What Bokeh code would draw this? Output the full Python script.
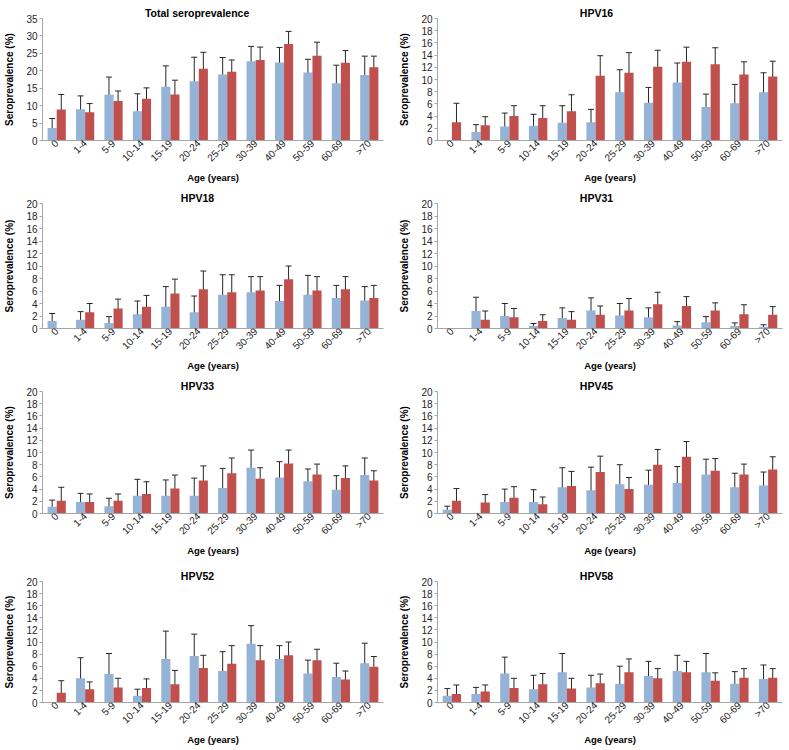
import math
from bokeh.plotting import figure
from bokeh.models import (ColumnDataSource, FactorRange, Range1d, Whisker, TeeHead,
                          FixedTicker)
from bokeh.transform import dodge
from bokeh.layouts import column, row
from bokeh.embed import file_html
from bokeh.resources import INLINE

# ---------------- data ----------------
ages = ["0", "1-4", "5-9", "10-14", "15-19", "20-24", "25-29", "30-39",
        "40-49", "50-59", "60-69", ">70"]

y_ticks_total = [0, 5, 10, 15, 20, 25, 30, 35]
y_ticks_hpv = [0, 2, 4, 6, 8, 10, 12, 14, 16, 18, 20]

# Total seroprevalence
total_blue = [3.6, 9.0, 13.1, 8.4, 15.4, 17.0, 18.9, 22.7, 22.4, 19.5, 16.4, 18.8]
total_blue_lo = [0.7, 5.2, 8.0, 3.2, 9.4, 10.1, 13.9, 18.5, 18.2, 15.7, 11.1, 13.6]
total_blue_hi = [6.3, 12.8, 18.2, 13.4, 21.4, 23.9, 23.8, 27.0, 26.7, 23.3, 21.6, 24.2]
total_red = [8.9, 8.1, 11.3, 12.0, 13.2, 20.6, 19.7, 23.1, 27.7, 24.3, 22.3, 21.0]
total_red_lo = [4.6, 5.7, 8.4, 9.0, 9.1, 15.8, 16.3, 19.3, 23.9, 20.5, 18.8, 17.6]
total_red_hi = [13.2, 10.6, 14.2, 15.1, 17.3, 25.3, 23.1, 26.8, 31.3, 28.2, 25.8, 24.2]

# HPV16
hpv16_blue = [None, 1.4, 2.3, 2.4, 2.9, 3.0, 7.9, 6.2, 9.5, 5.5, 6.1, 7.9]
hpv16_blue_lo = [None, 0.0, 0.0, 0.4, 0.0, 0.9, 4.3, 3.8, 6.2, 3.4, 3.1, 4.7]
hpv16_blue_hi = [None, 2.6, 4.5, 4.3, 5.7, 5.1, 11.6, 8.7, 12.7, 7.6, 9.2, 11.1]
hpv16_red = [3.0, 2.5, 4.0, 3.7, 4.8, 10.6, 11.1, 12.1, 12.9, 12.5, 10.8, 10.5]
hpv16_red_lo = [0.0, 1.1, 2.3, 1.7, 2.0, 7.4, 7.9, 9.5, 10.4, 9.7, 8.8, 7.9]
hpv16_red_hi = [6.1, 3.9, 5.7, 5.7, 7.5, 13.9, 14.4, 14.8, 15.3, 15.2, 12.9, 13.0]

# HPV18
hpv18_blue = [1.2, 1.4, 0.9, 2.3, 3.5, 2.6, 5.4, 5.8, 4.4, 5.4, 4.9, 4.5]
hpv18_blue_lo = [0.0, 0.0, 0.0, 0.1, 0.3, 0.1, 2.2, 3.2, 1.8, 2.3, 2.9, 2.2]
hpv18_blue_hi = [2.4, 2.7, 1.9, 4.4, 6.7, 5.2, 8.6, 8.3, 6.9, 8.5, 6.9, 6.7]
hpv18_red = [None, 2.6, 3.2, 3.5, 5.6, 6.3, 5.8, 6.1, 7.9, 6.1, 6.3, 4.9]
hpv18_red_lo = [None, 1.2, 1.6, 1.8, 3.2, 3.5, 3.0, 4.0, 5.8, 3.8, 4.4, 3.0]
hpv18_red_hi = [None, 4.0, 4.7, 5.3, 7.9, 9.2, 8.6, 8.3, 10.0, 8.3, 8.3, 6.9]

# HPV31
hpv31_blue = [None, 2.8, 2.0, 0.4, 1.7, 2.9, 2.1, 1.8, 0.5, 1.0, 0.4, 0.3]
hpv31_blue_lo = [None, 0.6, 0.0, 0.0, 0.0, 0.8, 0.2, 0.3, 0.0, 0.0, 0.0, 0.0]
hpv31_blue_hi = [None, 5.0, 4.0, 0.8, 3.3, 4.9, 4.0, 3.3, 1.1, 1.9, 0.9, 0.6]
hpv31_red = [None, 1.4, 1.8, 1.2, 1.4, 2.2, 2.9, 3.9, 3.6, 2.9, 2.3, 2.2]
hpv31_red_lo = [None, 0.0, 0.4, 0.3, 0.1, 0.8, 1.1, 1.9, 2.1, 1.7, 0.8, 0.9]
hpv31_red_hi = [None, 2.8, 3.2, 2.2, 2.7, 3.6, 4.8, 5.8, 5.1, 4.1, 3.8, 3.5]

# HPV33
hpv33_blue = [1.1, 1.9, 1.2, 2.9, 2.9, 2.9, 4.2, 7.5, 5.9, 5.3, 3.9, 6.3]
hpv33_blue_lo = [0.0, 0.4, 0.0, 0.4, 0.4, 0.2, 1.0, 4.6, 3.3, 3.3, 1.5, 3.5]
hpv33_blue_hi = [2.2, 3.3, 2.5, 5.6, 5.5, 5.8, 7.4, 10.4, 8.5, 7.3, 6.2, 9.1]
hpv33_red = [2.1, 1.9, 2.1, 3.2, 4.1, 5.4, 6.6, 5.7, 8.2, 6.4, 5.8, 5.4]
hpv33_red_lo = [0.0, 0.6, 1.0, 1.2, 2.0, 3.0, 4.2, 4.0, 6.0, 4.6, 3.9, 4.0]
hpv33_red_hi = [4.3, 3.2, 3.2, 5.2, 6.3, 7.8, 9.1, 7.5, 10.4, 8.1, 7.8, 7.0]

# HPV45
hpv45_blue = [0.6, None, 1.9, 1.9, 4.3, 3.8, 4.8, 4.7, 5.0, 6.4, 4.3, 4.6]
hpv45_blue_lo = [0.0, None, 0.0, 0.0, 1.2, 0.0, 1.7, 2.2, 2.2, 4.0, 2.0, 2.3]
hpv45_blue_hi = [1.2, None, 4.0, 3.9, 7.5, 7.6, 8.0, 7.1, 7.7, 8.9, 6.6, 6.8]
hpv45_red = [2.1, 1.8, 2.6, 1.5, 4.5, 6.8, 4.0, 8.0, 9.3, 7.0, 6.4, 7.2]
hpv45_red_lo = [0.0, 0.6, 0.8, 0.3, 2.0, 4.1, 2.0, 5.5, 6.8, 5.0, 4.7, 5.2]
hpv45_red_hi = [4.1, 3.1, 4.4, 2.7, 6.9, 9.4, 5.9, 10.5, 11.8, 9.0, 8.1, 9.3]

# HPV52
hpv52_blue = [None, 4.0, 4.7, 1.1, 7.2, 7.7, 5.2, 9.7, 7.2, 4.8, 4.2, 6.5]
hpv52_blue_lo = [None, 0.6, 1.2, 0.0, 2.6, 4.2, 1.9, 6.8, 5.0, 2.8, 1.9, 3.2]
hpv52_blue_hi = [None, 7.4, 8.1, 2.2, 11.8, 11.3, 8.4, 12.7, 9.4, 7.0, 6.5, 9.8]
hpv52_red = [1.6, 2.2, 2.5, 2.4, 3.0, 5.7, 6.4, 7.0, 7.8, 7.0, 3.8, 5.9]
hpv52_red_lo = [0.0, 1.0, 1.0, 0.9, 0.8, 3.6, 3.4, 4.7, 5.6, 5.2, 2.4, 4.1]
hpv52_red_hi = [3.6, 3.4, 4.0, 3.9, 5.3, 7.8, 9.4, 9.4, 10.0, 8.8, 5.2, 7.6]

# HPV58
hpv58_blue = [1.1, 1.4, 4.8, 2.2, 5.0, 2.5, 3.1, 4.4, 5.2, 5.0, 3.1, 3.9]
hpv58_blue_lo = [0.0, 0.3, 2.2, 0.0, 1.9, 0.4, 0.3, 2.1, 2.7, 1.9, 1.0, 1.6]
hpv58_blue_hi = [2.3, 2.5, 7.5, 4.5, 8.1, 4.5, 6.0, 6.8, 7.8, 8.1, 5.1, 6.2]
hpv58_red = [1.4, 1.8, 2.4, 3.0, 2.3, 3.2, 5.0, 4.0, 5.0, 3.6, 4.1, 4.1]
hpv58_red_lo = [0.0, 0.7, 0.8, 1.3, 0.6, 1.6, 3.0, 2.5, 3.2, 2.3, 2.7, 2.6]
hpv58_red_hi = [2.9, 2.9, 4.0, 4.8, 4.0, 4.7, 7.2, 5.6, 6.8, 4.9, 5.6, 5.6]

panels = [
    ("Total seroprevalence", y_ticks_total,
     total_blue, total_blue_lo, total_blue_hi, total_red, total_red_lo, total_red_hi),
    ("HPV16", y_ticks_hpv,
     hpv16_blue, hpv16_blue_lo, hpv16_blue_hi, hpv16_red, hpv16_red_lo, hpv16_red_hi),
    ("HPV18", y_ticks_hpv,
     hpv18_blue, hpv18_blue_lo, hpv18_blue_hi, hpv18_red, hpv18_red_lo, hpv18_red_hi),
    ("HPV31", y_ticks_hpv,
     hpv31_blue, hpv31_blue_lo, hpv31_blue_hi, hpv31_red, hpv31_red_lo, hpv31_red_hi),
    ("HPV33", y_ticks_hpv,
     hpv33_blue, hpv33_blue_lo, hpv33_blue_hi, hpv33_red, hpv33_red_lo, hpv33_red_hi),
    ("HPV45", y_ticks_hpv,
     hpv45_blue, hpv45_blue_lo, hpv45_blue_hi, hpv45_red, hpv45_red_lo, hpv45_red_hi),
    ("HPV52", y_ticks_hpv,
     hpv52_blue, hpv52_blue_lo, hpv52_blue_hi, hpv52_red, hpv52_red_lo, hpv52_red_hi),
    ("HPV58", y_ticks_hpv,
     hpv58_blue, hpv58_blue_lo, hpv58_blue_hi, hpv58_red, hpv58_red_lo, hpv58_red_hi),
]

# ---------------- styling ----------------
BLUE = "#95B3D7"
RED = "#C0504D"
ERR = "#262626"
AXIS = "#A6A6A6"
TXT = "#262626"
FONT = "Liberation Sans"
TITLE_PX = 10.5

row_tops = [18, 17, 17, 19]
row_heights = [186, 188, 188, 186]
row_bottoms = [46, 44, 49, 44]
col_widths = [395, 392]
col_left = [42, 42]
col_right = [12, 5]
title_centers = [155, 159]   # title centre, measured from the frame's left edge

BW = 0.32


def nan(v):
    return float("nan") if v is None else v


def title_width(text):
    # rough width estimate of bold Liberation Sans text
    em = {"T": .611, "o": .611, "t": .333, "a": .556, "l": .278, " ": .278,
          "s": .556, "e": .556, "r": .389, "p": .611, "v": .556, "n": .611,
          "c": .556, "H": .722, "P": .667, "V": .667}
    return sum(em.get(ch, .556) for ch in text) * TITLE_PX


def make_panel(idx, spec):
    title, yticks, b, bl, bh, r, rl, rh = spec
    rr, cc = divmod(idx, 2)
    ymax = yticks[-1]
    p = figure(x_range=FactorRange(factors=ages, range_padding=0),
               y_range=Range1d(0, ymax),
               width=col_widths[cc], height=row_heights[rr],
               min_border_left=col_left[cc], min_border_right=col_right[cc],
               min_border_top=row_tops[rr], min_border_bottom=row_bottoms[rr],
               output_backend="svg", toolbar_location=None, tools="")
    p.outline_line_color = None
    p.grid.visible = False
    p.background_fill_color = "white"

    p.title.text = title
    p.title.align = "left"
    p.title.text_font = FONT
    p.title.text_font_size = f"{TITLE_PX}px"
    p.title.text_font_style = "bold"
    p.title.text_color = "black"
    p.title.standoff = 0
    p.title.offset = title_centers[cc] - title_width(title) / 2

    src = ColumnDataSource(dict(
        age=ages,
        b=[nan(v) for v in b], bl=[nan(v) for v in bl], bh=[nan(v) for v in bh],
        r=[nan(v) for v in r], rl=[nan(v) for v in rl], rh=[nan(v) for v in rh],
    ))
    p.vbar(x=dodge("age", -BW / 2, range=p.x_range), top="b", width=BW,
           source=src, fill_color=BLUE, line_color=None)
    p.vbar(x=dodge("age", BW / 2, range=p.x_range), top="r", width=BW,
           source=src, fill_color=RED, line_color=None)

    for off, lo, hi in ((-BW / 2, "bl", "bh"), (BW / 2, "rl", "rh")):
        w = Whisker(base=dodge("age", off, range=p.x_range), lower=lo, upper=hi,
                    source=src, line_color=ERR, line_width=1,
                    upper_head=TeeHead(size=6, line_color=ERR, line_width=1),
                    lower_head=TeeHead(size=6, line_color=ERR, line_width=1))
        p.add_layout(w)

    xa = p.xaxis[0]
    xa.axis_label = "Age (years)"
    xa.major_label_orientation = math.pi / 4
    xa.major_tick_line_color = None
    xa.minor_tick_line_color = None
    xa.major_tick_out = 0
    xa.major_tick_in = 0
    xa.major_label_standoff = 1
    xa.axis_label_standoff = 2
    xa.axis_label_text_font_size = "9.5px"
    ya = p.yaxis[0]
    ya.axis_label = "Seroprevalence (%)"
    ya.ticker = FixedTicker(ticks=yticks)
    ya.minor_tick_line_color = None
    ya.major_tick_in = 0
    ya.major_tick_out = 3
    ya.major_tick_line_color = AXIS
    ya.major_label_standoff = 2
    ya.axis_label_standoff = 8
    ya.axis_label_text_font_size = "10px"
    for ax in (xa, ya):
        ax.axis_line_color = AXIS
        ax.major_label_text_font = FONT
        ax.major_label_text_font_size = "10px"
        ax.major_label_text_color = TXT
        ax.axis_label_text_font = FONT
        ax.axis_label_text_font_style = "bold"
        ax.axis_label_text_color = "black"
    return p


figs = [make_panel(i, s) for i, s in enumerate(panels)]
layout = column(*[row(figs[2 * k], figs[2 * k + 1]) for k in range(4)])

open("out.html", "w").write(file_html(layout, INLINE))
